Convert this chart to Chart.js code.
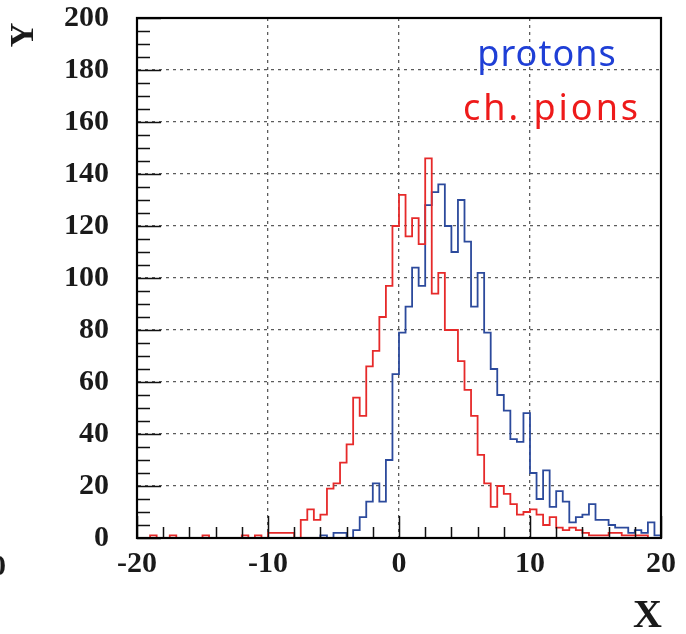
<!DOCTYPE html>
<html><head><meta charset="utf-8">
<script src="https://cdn.jsdelivr.net/npm/chart.js@4.4.1/dist/chart.umd.min.js"></script>
<style>html,body{margin:0;padding:0;background:#fff;}#wrap{width:686px;height:634px;position:relative;}</style>
</head><body><div id="wrap"><canvas id="c"></canvas></div>
<script>
// histogram binning (bin left edges from -20 in steps of 0.5)
const binStart = -20;
const binWidth = 0.5;
const seriesLabels = ['protons', 'ch. pions'];
const axisTitles = ['X', 'Y'];
const protons = [0,0,0,0,0,0,0,0,0,0, 0,0,0,0,0,0,0,0,0,0, 0,0,0,0,0,0,0,0,1,0,
  2,2,0,3,8,14,21,14,30,63, 79,89,104,97,128,133,136,120,110,130,
  114,89,102,79,65,55,49,38,37,48, 25,15,26,12,18,14,6,8,9,13,
  7,7,5,4,4,2,3,2,6,1];
const pions = [0,0,1,0,0,1,0,0,0,0, 1,0,0,0,0,0,1,0,1,0, 2,2,2,2,0,7,11,7,9,19,
  21,29,36,54,47,66,72,85,97,120, 132,116,123,113,146,94,102,80,80,68,
  57,47,32,21,12,20,17,13,9,10, 11,9,5,8,4,3,4,3,2,1,
  1,1,2,2,1,1,1,1,0,0];
const xTickValues = [-20,-10,0,10,20];
const yTickValues = [0,20,40,60,80,100,120,140,160,180,200];

function toSteps(vals){
  const pts = vals.map((v,i)=>({x: binStart + i*binWidth, y: v}));
  pts.push({x: binStart + vals.length*binWidth, y: vals[vals.length-1]});
  return pts;
}

const tickFont = {family: 'Liberation Serif', weight: 'bold', size: 30};

const extras = {
  id: 'extras',
  afterDatasetsDraw(chart){
    const {ctx, chartArea: a, scales: {x, y}} = chart;
    ctx.save();
    ctx.strokeStyle = '#111';
    ctx.lineWidth = 1.5;
    ctx.beginPath();
    for (let k = -10; k <= 10; k++) {
      const v = k*2, px = Math.round(x.getPixelForValue(v)) + 0.5;
      const len = (v % 10 === 0) ? 22 : 11;
      ctx.moveTo(px, a.bottom); ctx.lineTo(px, a.bottom - len);
    }
    for (let k = 0; k <= 40; k++) {
      const v = k*5, py = Math.round(y.getPixelForValue(v)) + 0.5;
      const len = (v % 20 === 0) ? 24 : 13;
      ctx.moveTo(a.left, py); ctx.lineTo(a.left + len, py);
    }
    ctx.stroke();
    ctx.lineWidth = 2.2;
    ctx.strokeStyle = '#000';
    ctx.strokeRect(a.left, a.top, a.right - a.left, a.bottom - a.top);
    // handwritten-style series labels
    ctx.textAlign = 'center';
    ctx.textBaseline = 'alphabetic';
    ctx.font = '36px "Noto Sans"';
    ctx.letterSpacing = '1px';
    ctx.fillStyle = '#1f3fd6';
    ctx.fillText(chart.data.datasets[1].label, a.left + 410, 66);
    ctx.letterSpacing = '3px';
    ctx.fillStyle = '#ee1a1a';
    ctx.fillText(chart.data.datasets[0].label, a.left + 415, 120);
    ctx.letterSpacing = '0px';
    // axis titles
    ctx.fillStyle = '#1a1a1a';
    ctx.font = 'bold 40px "Liberation Serif"';
    ctx.textAlign = 'right';
    ctx.fillText(axisTitles[0], a.right + 1, 627);
    ctx.save();
    ctx.translate(33, 35);
    ctx.rotate(-Math.PI/2);
    ctx.font = 'bold 34px "Liberation Serif"';
    ctx.textAlign = 'center';
    ctx.fillText(axisTitles[1], 0, 0);
    ctx.restore();
    // clipped label of a neighbouring panel at the left edge
    ctx.font = 'bold 30px "Liberation Serif"';
    ctx.textAlign = 'right';
    ctx.fillText('0', 6, 575);
    ctx.restore();
  }
};

new Chart(document.getElementById('c'), {
  type: 'line',
  data: {
    datasets: [
      {label: seriesLabels[1], data: toSteps(pions), borderColor: '#e62a2a', borderWidth: 1.8, stepped: 'before', pointRadius: 0, fill: false, order: 0},
      {label: seriesLabels[0], data: toSteps(protons), borderColor: '#2c4a9c', borderWidth: 1.8, stepped: 'before', pointRadius: 0, fill: false, order: 1}
    ]
  },
  options: {
    responsive: true, maintainAspectRatio: false, animation: false,
    layout: {padding: {left: 0, right: 25, top: 18, bottom: 0}},
    plugins: {legend: {display: false}, tooltip: {enabled: false}},
    scales: {
      x: {
        type: 'linear', min: -20, max: 20,
        afterFit: s => { s.height = 96; },
        afterBuildTicks: s => { s.ticks = xTickValues.map(v => ({value: v})); },
        ticks: {font: tickFont, color: '#1a1a1a', padding: 8, maxRotation: 0, autoSkip: false},
        grid: {drawTicks: false, color: c => (c.tick && (c.tick.value === -20 || c.tick.value === 20)) ? 'rgba(0,0,0,0)' : '#5c5c5c', lineWidth: 1.3},
        border: {display: true, color: '#000', width: 2, dash: [3,4]}
      },
      y: {
        type: 'linear', min: 0, max: 200,
        afterFit: s => { s.width = 137; s.paddingTop = 0; s.paddingBottom = 0; },
        afterBuildTicks: s => { s.ticks = yTickValues.map(v => ({value: v})); },
        ticks: {font: tickFont, color: '#1a1a1a', padding: 28, autoSkip: false},
        grid: {drawTicks: false, color: c => (c.tick && (c.tick.value === 0 || c.tick.value === 200)) ? 'rgba(0,0,0,0)' : '#5c5c5c', lineWidth: 1.3},
        border: {display: true, color: '#000', width: 2, dash: [3,4]}
      }
    }
  },
  plugins: [extras]
});
</script></body></html>
